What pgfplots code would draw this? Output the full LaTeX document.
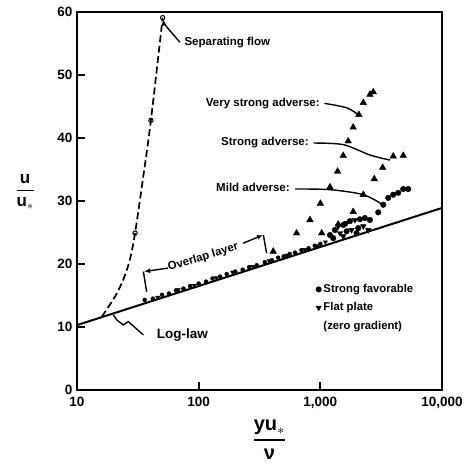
\documentclass[border=0pt]{standalone}
\usepackage{amsmath}
\usepackage{fontspec}
\setmainfont{Liberation Sans}
\usepackage{pgfplots}
\pgfplotsset{compat=1.18}
\usetikzlibrary{arrows.meta}

\begin{document}
\begin{tikzpicture}
\begin{axis}[
  scale only axis, width=365pt, height=378pt,
  xmode=log, xmin=10, xmax=10000, ymin=0, ymax=60,
  xtick={10,100,1000,10000}, xticklabels={10,100,{1,000},{10,000}},
  ytick={0,10,20,30,40,50,60},
  xminorticks=false, yminorticks=false,
  xtick pos=bottom, ytick pos=left, tick align=inside,
  major tick length=8pt,
  axis line style={line width=2pt},
  every tick/.style={line width=1.8pt, black},
  ticklabel style={font=\fontsize{13.5}{15}\selectfont\bfseries},
  /pgf/number format/assume math mode=true,
  xticklabel style={yshift=-4pt},
  yticklabel style={xshift=-1pt},
  clip=false,
  legend cell align=left,
  legend style={at={(rel axis cs:0.63,0.29)}, anchor=north west, draw=none, fill=none,
    font=\fontsize{11.3}{13}\selectfont\bfseries, row sep=4.5pt},
  xlabel={$\genfrac{}{}{1.5pt}{0}{\textbf{yu}_{\ast}}{\textbf{ν}}$},
  xlabel style={font=\fontsize{20}{22}\selectfont, at={(rel axis cs:0.527,0)}, anchor=north, yshift=-26pt},
  ylabel={$\genfrac{}{}{1.5pt}{0}{\textbf{u}}{\textbf{u}_{\ast}}$},
  ylabel style={font=\fontsize{17}{19}\selectfont, rotate=-90, at={(rel axis cs:-0.142,0.524)}, anchor=center},
]

% log-law
\addplot[forget plot, line width=2pt] coordinates {(10,10.3) (10000,28.9)};

% separating flow
\addplot[forget plot, line width=1.7pt, dash pattern=on 7pt off 3.5pt, smooth] coordinates {
  (16,11.65) (17,12.4) (20.5,14.8) (24,17.5) (27.2,20.7) (30,24.9) (35,33.8) (40.5,42.8) (50.6,59.1)
};
\addplot[forget plot, only marks, mark=o, mark size=2.2pt, mark options={fill=white, line width=1pt}] coordinates {
  (30,24.9) (40.5,42.8) (50.6,59.1)
};

% strong favorable
\addplot[only marks, mark=*, mark size=2.8pt, black] coordinates {
  (2993,28.2) (3289,29.4) (3614,30.5) (3972,31.0) (4365,31.3) (4797,31.9) (5272,31.9)
  (1200,24.6) (1318,25.4) (1543,26.2) (1750,26.8) (2113,27.1) (2323,27.3) (2556,27.0)
  (1644,25.2) (2048,25.7) (1276,24.1) (1986,24.9)
};
\addlegendentry{Strong favorable}

% flat plate
\addplot[only marks, mark=triangle*, mark size=3.2pt, mark options={rotate=180}, black] coordinates {
  (1404,26.0) (1644,26.5) (1923,27.0) (1450,24.9) (1808,25.4) (2255,26.0) (2479,25.4) (1543,24.4)
};
\addlegendentry{Flat plate}
\addlegendimage{empty legend}
\addlegendentry{(zero gradient)}

% overlap points
\addplot[forget plot, only marks, mark=*, mark size=2pt, black] coordinates {
  (36,14.3) (42,14.5) (50,15.1) (57,15.3) (65,15.8) (75,16.1) (85,16.5) (100,16.9)
  (115,17.2) (130,17.7) (150,18.0) (170,18.4) (200,18.8) (230,19.1) (260,19.5) (300,19.8)
  (350,20.3) (400,20.6) (450,21.0) (500,21.2) (560,21.6) (620,21.8) (700,22.2) (800,22.5)
  (900,22.9) (1000,23.2)
};
\addplot[forget plot, only marks, mark=triangle*, mark size=2.4pt, mark options={rotate=180}, black] coordinates {
  (46,14.7) (68,15.9) (92,16.6) (140,17.8) (190,18.7) (280,19.6) (380,20.5) (530,21.4)
  (750,22.3) (950,22.9) (1100,23.5)
};

% adverse gradients
\addplot[forget plot, only marks, mark=triangle*, mark size=3.8pt, black] coordinates {
  (410,22.0) (638,24.9) (822,27.0) (1000,29.6) (1200,32.2) (1386,34.7) (1542,37.2)
  (1693,39.5) (1862,41.7) (2075,43.7) (2255,45.6) (2558,46.9) (2723,47.3)
  (1026,24.9) (1403,26.3) (1862,28.3) (2255,31.0) (2775,33.5) (3251,35.3) (3972,37.1) (4797,37.2)
};

% leaders
\addplot[forget plot, line width=1.4pt, smooth] coordinates {(1080,45.5) (1644,44.8) (2047,43.7)};
\addplot[forget plot, line width=1.4pt, smooth] coordinates {(880,39.2) (1542,38.95) (2556,37.3) (3733,36.5)};
\addplot[forget plot, line width=1.4pt, smooth] coordinates {(620,31.9) (1200,31.8) (2255,31.0) (3265,29.4)};
\addplot[forget plot, line width=1.4pt, smooth, -{Latex[length=6pt,width=5pt]}] coordinates {(70.2,55.2) (53.8,57.8) (51.2,58.8)};
\addplot[forget plot, line width=1.4pt] coordinates {(35.1,8.74) (26.4,10.86) (24.0,10.33) (21.2,11.13) (19.9,11.92)};
% overlap layer bracket
\addplot[forget plot, line width=1.4pt] coordinates {(35.1,18.8) (37.4,15.6)};
\addplot[forget plot, line width=1.4pt] coordinates {(340,24.6) (362,21.7)};
\addplot[forget plot, line width=1.4pt, -{Latex[length=6pt,width=5pt]}] coordinates {(56,19.35) (35.6,18.8)};
\addplot[forget plot, line width=1.4pt, -{Latex[length=6pt,width=5pt]}] coordinates {(232,23.3) (338,24.6)};

\node[anchor=west, font=\fontsize{11.5}{13}\selectfont\bfseries] at (axis cs:71.6,55.1) {Separating flow};
\node[anchor=east, font=\fontsize{11.5}{13}\selectfont\bfseries] at (axis cs:1057,45.5) {Very strong adverse:};
\node[anchor=east, font=\fontsize{11.5}{13}\selectfont\bfseries] at (axis cs:857,39.2) {Strong adverse:};
\node[anchor=east, font=\fontsize{11.5}{13}\selectfont\bfseries] at (axis cs:599,32.1) {Mild adverse:};
\node[rotate=17, font=\fontsize{11.5}{13}\selectfont\bfseries] at (axis cs:109,21.07) {Overlap layer};
\node[anchor=west, font=\fontsize{13.5}{15}\selectfont\bfseries] at (axis cs:42.4,8.74) {Log-law};
\end{axis}
\path ([shift={(-77pt,-83pt)}]current axis.south west) rectangle ([shift={(18pt,12pt)}]current axis.north east);
\end{tikzpicture}
\end{document}
